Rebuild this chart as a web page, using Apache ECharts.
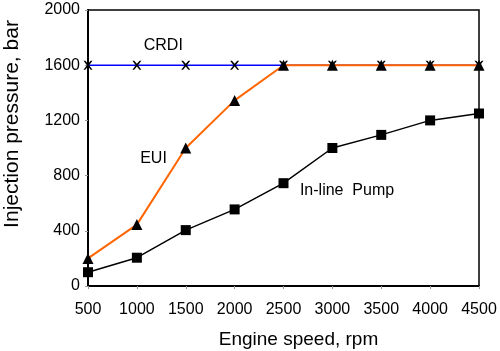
<!DOCTYPE html>
<html>
<head>
  <meta charset="utf-8">
</head>
<body style="margin: 0">
  <div id="container" style="width: 500px; height: 351px"></div>
  <script src="https://cdn.jsdelivr.net/npm/echarts@6/dist/echarts.min.js"></script>
  <script>
    var speeds = [500, 1000, 1500, 2000, 2500, 3000, 3500, 4000, 4500];
    var crdi = [1600, 1600, 1600, 1600, 1600, 1600, 1600, 1600, 1600];
    var eui = [200, 445, 1000, 1345, 1600, 1600, 1600, 1600, 1600];
    var pump = [100, 205, 405, 555, 745, 1000, 1095, 1200, 1250];

    // text labels placed at data coordinates
    var notes = [
      { name: 'CRDI', coord: [1270, 1740] },
      { name: 'EUI', coord: [1170, 920] },
      { name: 'In-line  Pump', coord: [3150, 690] }
    ];

    function pairs(ys) {
      return speeds.map(function (x, i) { return [x, ys[i]]; });
    }

    var xMark = 'path://M0,0 L2,0 L5,3.5 L8,0 L10,0 L6.2,5 L10,10 L8,10 L5,6.5 L2,10 L0,10 L3.8,5 Z';
    var font = 'Liberation Sans, Arial, sans-serif';

    var myChart = echarts.init(document.getElementById('container'));
    myChart.setOption({
      animation: false,
      grid: {
        left: 88, right: 21, top: 10, bottom: 65,
        outerBoundsMode: 'none', containLabel: false,
        show: true, borderColor: '#000', borderWidth: 1.5
      },
      xAxis: {
        type: 'value', min: 500, max: 4500, interval: 500,
        name: 'Engine speed, rpm', nameLocation: 'middle', nameGap: 44,
        nameTextStyle: { fontSize: 19, color: '#000', fontFamily: font, padding: [0, 0, 0, 30] },
        axisLine: { lineStyle: { color: '#000', width: 2 } },
        axisTick: { show: true, length: 3, lineStyle: { color: '#999' } },
        axisLabel: { fontSize: 16, color: '#000', fontFamily: font, margin: 16,
          formatter: function (v) { return String(v); } },
        splitLine: { show: false }
      },
      yAxis: {
        type: 'value', min: 0, max: 2000, interval: 400,
        name: 'Injection pressure, bar', nameLocation: 'middle', nameGap: 65,
        nameTextStyle: { fontSize: 21, color: '#000', fontFamily: font, padding: [0, 0, 0, 48] },
        axisLine: { show: true, lineStyle: { color: '#000', width: 2 } },
        axisTick: { show: true, length: 3, lineStyle: { color: '#999' } },
        axisLabel: { fontSize: 16, color: '#000', fontFamily: font, margin: 8,
          formatter: function (v) { return String(v); } },
        splitLine: { show: false }
      },
      series: [
        {
          name: 'CRDI', type: 'line', data: pairs(crdi),
          symbol: xMark, symbolSize: 9, z: 2,
          lineStyle: { color: '#0000ff', width: 1.5 },
          itemStyle: { color: '#000' }
        },
        {
          name: 'EUI', type: 'line', data: pairs(eui),
          symbol: 'triangle', symbolSize: 11, z: 3,
          lineStyle: { color: '#ff6600', width: 2 },
          itemStyle: { color: '#000' },
          markPoint: {
            symbol: 'circle', symbolSize: 0,
            label: { show: true, formatter: '{b}', fontSize: 16, color: '#000', fontFamily: font },
            data: notes
          }
        },
        {
          name: 'In-line Pump', type: 'line', data: pairs(pump),
          symbol: 'rect', symbolSize: 10, z: 4,
          lineStyle: { color: '#000', width: 1.5 },
          itemStyle: { color: '#000' }
        }
      ]
    });
  </script>
</body>
</html>
